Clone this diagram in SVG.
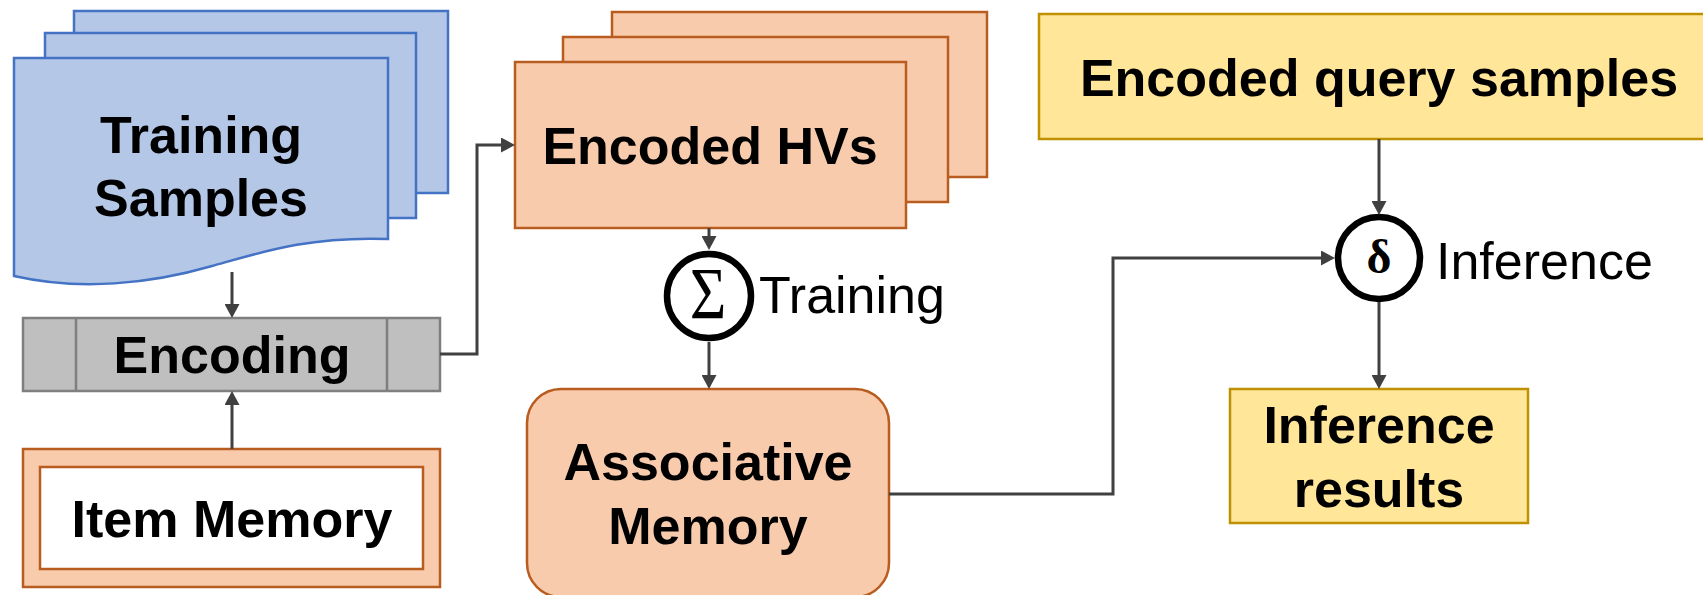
<svg xmlns="http://www.w3.org/2000/svg" width="1703" height="595" viewBox="0 0 1703 595">
<style>
.blue{fill:#b4c7e7;stroke:#4472c4;stroke-width:2.5}
.orange{fill:#f8cbad;stroke:#b85c1f;stroke-width:2.5}
.gray{fill:#bfbfbf;stroke:#7f7f7f;stroke-width:2.5}
.yellow{fill:#ffe699;stroke:#bf9000;stroke-width:2.5}
.op{fill:#ffffff;stroke:#000000;stroke-width:6.5}
.bt{font-family:"Liberation Sans",Arial,sans-serif;font-weight:bold;font-size:52px;fill:#000;text-anchor:middle}
.rt{font-family:"Liberation Sans",Arial,sans-serif;font-size:52px;fill:#000}
.conn{fill:none;stroke:#404040;stroke-width:3}
</style>
<defs>
<marker id="arr" viewBox="0 0 14 15" markerWidth="14" markerHeight="15" refX="10" refY="7.5" orient="auto" markerUnits="userSpaceOnUse">
<path d="M0,0 L14,7.5 L0,15 Z" fill="#404040"/>
</marker>
</defs>

<g id="training-samples">
<rect class="blue" x="74" y="11" width="374" height="182"/>
<rect class="blue" x="45" y="33" width="371" height="185"/>
<path class="blue" d="M14,58 H388 V239 C310,236 262,252 212,266 C150,284 80,291 14,276 Z"/>
<text class="bt" x="201" y="153">Training</text>
<text class="bt" x="201" y="216">Samples</text>
</g>

<g id="encoding">
<rect class="gray" x="23" y="318" width="417" height="73"/>
<line x1="76" y1="318" x2="76" y2="391" stroke="#7f7f7f" stroke-width="2.5"/>
<line x1="387" y1="318" x2="387" y2="391" stroke="#7f7f7f" stroke-width="2.5"/>
<text class="bt" x="232" y="373">Encoding</text>
</g>

<g id="item-memory">
<rect class="orange" x="23" y="449" width="417" height="138"/>
<rect x="40" y="467" width="383" height="102" fill="#ffffff" stroke="#b85c1f" stroke-width="2.5"/>
<text class="bt" x="232" y="537">Item Memory</text>
</g>

<g id="encoded-hvs">
<rect class="orange" x="612" y="12" width="375" height="165"/>
<rect class="orange" x="563" y="37" width="385" height="165"/>
<rect class="orange" x="515" y="62" width="391" height="166"/>
<text class="bt" x="710" y="164">Encoded HVs</text>
</g>

<g id="sum-op">
<circle class="op" cx="709" cy="296" r="42"/>
<text transform="translate(708,319) scale(0.85,1)" font-family="'Liberation Serif','Times New Roman',serif" font-size="74" text-anchor="middle" fill="#000">Σ</text>
<text class="rt" x="759" y="313">Training</text>
</g>

<g id="associative-memory">
<rect class="orange" x="527" y="389" width="362" height="208" rx="34" ry="34"/>
<text class="bt" x="708" y="480">Associative</text>
<text class="bt" x="708" y="544">Memory</text>
</g>

<g id="encoded-query">
<rect class="yellow" x="1039" y="14" width="680" height="125"/>
<text class="bt" x="1379" y="96">Encoded query samples</text>
</g>

<g id="delta-op">
<circle class="op" cx="1379" cy="258" r="41"/>
<text x="1379" y="273" font-family="'Liberation Serif','Times New Roman',serif" font-weight="bold" font-size="48" text-anchor="middle" fill="#000">δ</text>
<text class="rt" x="1436" y="279">Inference</text>
</g>

<g id="inference-results">
<rect class="yellow" x="1230" y="389" width="298" height="134"/>
<text class="bt" x="1379" y="443">Inference</text>
<text class="bt" x="1379" y="507">results</text>
</g>

<g id="connectors">
<path class="conn" d="M232,272 V314" marker-end="url(#arr)"/>
<path class="conn" d="M232,449 V395" marker-end="url(#arr)"/>
<path class="conn" d="M440,354 H477 V145 H511" marker-end="url(#arr)"/>
<path class="conn" d="M709,228 V246" marker-end="url(#arr)"/>
<path class="conn" d="M709,342 V385" marker-end="url(#arr)"/>
<path class="conn" d="M889,494 H1113 V258 H1331" marker-end="url(#arr)"/>
<path class="conn" d="M1379,139 V211" marker-end="url(#arr)"/>
<path class="conn" d="M1379,302 V385" marker-end="url(#arr)"/>
</g>
</svg>
